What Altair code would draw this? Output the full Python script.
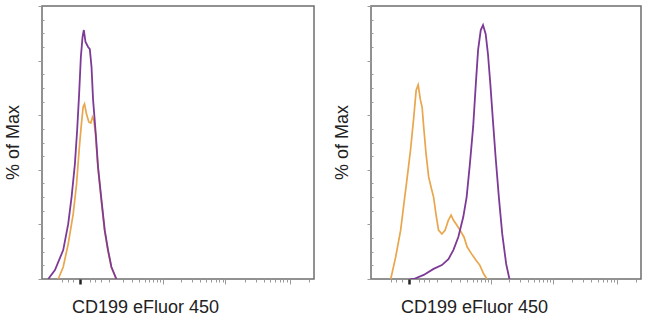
import altair as alt
import pandas as pd

# ---- data (x in fluorescence units, y in % of Max) ----
# Left panel
L_ctrl_x = [-63.8, -44.4, -28.3, -14.7, -6.8, -1.4, 2.6, 6.8, 10.0, 14.7, 20.6, 26.2, 31.2, 35.4,
            41.0, 49.5, 63.0, 77.5, 94.0, 113.5, 146.0]
L_ctrl_y = [0, 4.4, 12.8, 23.8, 34.8, 47.3, 55.7, 63.0, 64.1, 60.4, 57.5, 57.1, 59.3, 58.2,
            53.1, 41.0, 28.9, 17.9, 10.6, 4.4, 0]
L_stain_x = [-114.5, -78.5, -44.4, -28.3, -18.8, -10.6, -5.5, -1.4, 2.0, 5.5, 8.4, 12.3, 18.8, 23.4,
             28.3, 33.1, 42.0, 50.2, 63.8, 78.5, 95.2, 114.5, 147.5]
L_stain_y = [0, 3.3, 10.6, 20.1, 30.0, 42.1, 54.6, 67.8, 81.3, 88.6, 91.2, 86.8, 85.0, 84.2,
             77.7, 65.6, 53.1, 41.0, 28.9, 17.9, 10.6, 4.4, 0]
# Right panel
R_ctrl_x = [-49.2, -32.2, -18.0, -10.0, -2.6, 4.0, 11.3, 17.2, 22.6, 29.1, 34.4, 39.6, 48.0, 58.0,
            68.1, 80.0, 92.0, 106.3, 127.0, 149.7, 175.3, 198.5, 220.1, 255.6, 294.3, 347.8,
            398.2, 475.2, 563, 657.6, 767.5, 870]
R_ctrl_y = [0, 8.1, 17.9, 27.5, 37.4, 47.3, 59.3, 69.2, 71.1, 65.6, 63.0, 55.7, 45.8, 37.4,
            33.7, 30.0, 23.8, 17.9, 16.5, 17.9, 21.6, 23.4, 21.6, 19.8, 17.9, 15.4,
            11.7, 9.2, 7.0, 5.1, 1.8, 0]
R_stain_x = [4.0, 11.3, 39.6, 80.0, 127.0, 175.3, 220.1, 273.9, 337.9, 388.8, 443.9, 506.3, 563,
             616, 684, 746.8, 828, 903, 989, 1090, 1207, 1364, 1548, 1794, 2024]
R_stain_y = [0, 0, 1.5, 3.7, 5.1, 7.3, 10.6, 15.4, 22.7, 30.0, 42.1, 55.7, 71.4,
             83.9, 91.2, 93.0, 89.7, 82.4, 71.4, 58.2, 44.7, 30.0, 16.5, 5.5, 0]

X_MAJOR = [0, 1000, 10000, 100000]
X_MINOR = [-50, -30, -15, 25, 40, 60, 100, 200, 300, 400, 500, 600, 700, 800, 900,
           2000, 3000, 4000, 5000, 6000, 7000, 8000, 9000,
           20000, 30000, 40000, 50000, 60000, 70000, 80000, 90000, 200000]
Y_MAJOR = [0, 20, 40, 60, 80, 100]
Y_MINOR = [5, 10, 15, 25, 30, 35, 45, 50, 55, 65, 70, 75, 85, 90, 95]

X_TITLE = "CD199 eFluor 450"
Y_TITLE = "% of Max"

ORANGE = "#e9a64c"
PURPLE = "#7d3a96"
FONT = "Liberation Sans"


def panel(cx, cy, sx, sy, width):
    df_c = pd.DataFrame({"x": cx, "pct": cy})
    df_s = pd.DataFrame({"x": sx, "pct": sy})
    xaxis = alt.Axis(
        values=sorted(X_MAJOR + X_MINOR), labels=False, grid=False, domain=False,
        tickSize=alt.condition("indexof([0,1000,10000,100000], datum.value) >= 0",
                               alt.value(5), alt.value(3)),
        tickWidth=alt.condition("datum.value == 0", alt.value(2.5), alt.value(1)),
        tickColor=alt.condition("datum.value == 0", alt.value("#222222"), alt.value("#9a9a9a")),
        title=X_TITLE, titleX=103, titleY=19, titleAlign="center", titleBaseline="top",
        titleFont=FONT, titleFontSize=18, titleFontWeight="normal", titleColor="#222222",
    )
    yaxis = alt.Axis(
        values=sorted(Y_MAJOR + Y_MINOR), labels=False, grid=False, domain=False,
        tickSize=alt.condition("datum.value % 20 == 0", alt.value(4), alt.value(-2)),
        tickColor="#9a9a9a", tickWidth=1,
        title=Y_TITLE, titleX=-20, titleY=136, titleAngle=-90, titleAlign="center",
        titleBaseline="bottom", titleFont=FONT, titleFontSize=18, titleFontWeight="normal",
        titleColor="#222222",
    )
    x = alt.X("x:Q", scale=alt.Scale(type="symlog", constant=54.5, domain=[-157, 240000],
                                     nice=False, zero=False), axis=xaxis)
    y = alt.Y("pct:Q", scale=alt.Scale(domain=[0, 100], nice=False), axis=yaxis)
    ctrl = alt.Chart(df_c).mark_line(color=ORANGE, strokeWidth=1.7, clip=True).encode(x=x, y=y)
    stain = alt.Chart(df_s).mark_line(color=PURPLE, strokeWidth=1.8, clip=True).encode(x=x, y=y)
    return alt.layer(ctrl, stain).properties(width=width, height=273)


left = panel(L_ctrl_x, L_ctrl_y, L_stain_x, L_stain_y, 272)
right = panel(R_ctrl_x, R_ctrl_y, R_stain_x, R_stain_y, 270)

chart = (
    alt.hconcat(left, right, spacing=17)
    .properties(padding={"left": 3, "top": 4, "right": 5, "bottom": 2})
    .configure(font=FONT)
    .configure_view(stroke="#6e6e6e", strokeWidth=1.5)
)

chart.save("out.html", embed_options={"renderer": "svg", "actions": False})
